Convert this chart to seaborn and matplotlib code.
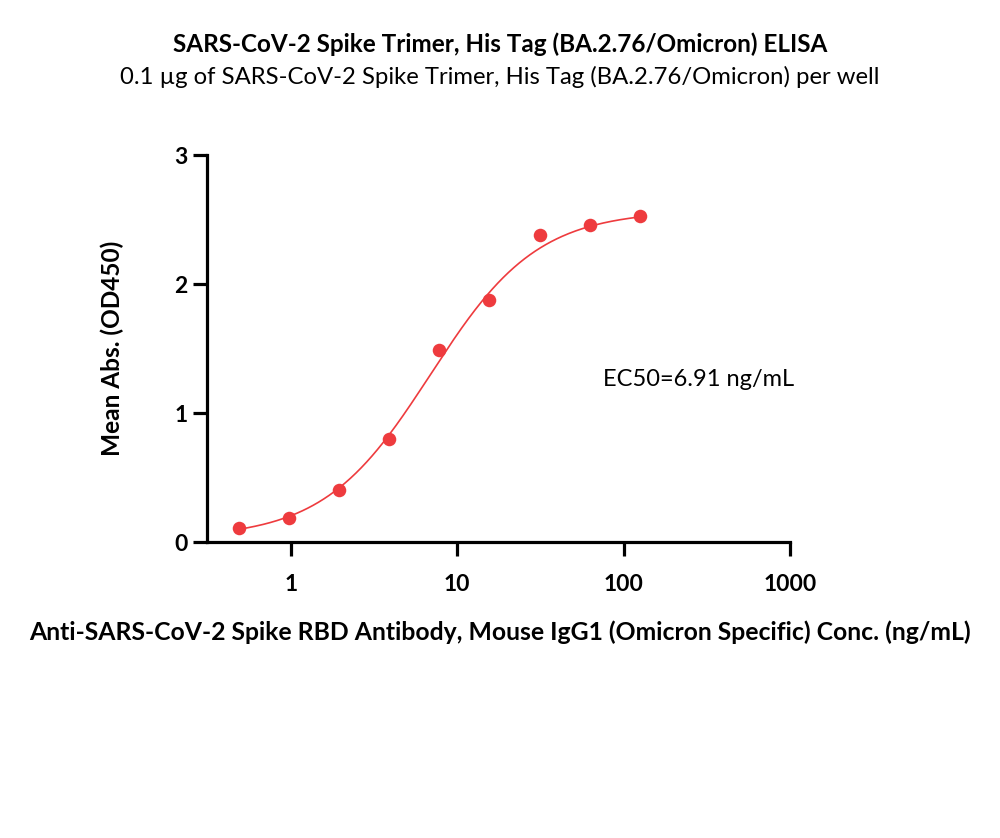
import matplotlib
matplotlib.use("Agg")
import matplotlib.pyplot as plt
import numpy as np
import pandas as pd
import seaborn as sns
from matplotlib.ticker import FixedLocator, NullLocator

# measured points (antibody conc. ng/mL vs mean OD450)
conc = [0.49, 0.98, 1.95, 3.9, 7.8, 15.6, 31.25, 62.5, 125.0]
od450 = [0.11, 0.19, 0.40, 0.80, 1.49, 1.88, 2.38, 2.46, 2.53]

# 4PL fit parameters (EC50 as reported)
fit_bottom = 0.03
fit_top = 2.57
fit_hill = 1.35
fit_ec50 = 6.91

x_ticks = [1, 10, 100, 1000]
x_tick_labels = ["1", "10", "100", "1000"]
y_ticks = [0, 1, 2, 3]

red = "#EE3B3E"

sns.set_theme(style="ticks")
plt.rcParams["font.family"] = ["Lato", "DejaVu Sans"]

points = pd.DataFrame({"conc": conc, "od": od450})
xs = np.logspace(np.log10(conc[0]), np.log10(conc[-1]), 300)
fit = pd.DataFrame({
    "conc": xs,
    "od": fit_bottom + (fit_top - fit_bottom) / (1 + (fit_ec50 / xs) ** fit_hill),
})

fig = plt.figure(figsize=(10, 8.38), dpi=100)
ax = fig.add_axes([0.207, 0.3532, 0.583, 0.4618])

sns.lineplot(data=fit, x="conc", y="od", ax=ax, color=red, linewidth=1.2)
sns.scatterplot(data=points, x="conc", y="od", ax=ax, color=red, s=95,
                edgecolor=red, linewidth=0, zorder=3)

ax.set_xscale("log")
ax.set_xlim(0.313, 1000)
ax.set_ylim(0, 3)
ax.xaxis.set_major_locator(FixedLocator(x_ticks))
ax.xaxis.set_minor_locator(NullLocator())
ax.set_xticklabels(x_tick_labels)
ax.set_yticks(y_ticks)

sns.despine(ax=ax)
for side in ("left", "bottom"):
    ax.spines[side].set_linewidth(2.3)
    ax.spines[side].set_color("black")
ax.tick_params(axis="both", which="major", length=10, width=2.3, color="black",
               labelsize=16.5, labelcolor="black")
ax.tick_params(axis="x", pad=13)
ax.tick_params(axis="y", pad=4)
for lab in ax.get_xticklabels() + ax.get_yticklabels():
    lab.set_fontweight("bold")

ax.set_xlabel("")
ax.set_ylabel("Mean Abs. (OD450)", fontsize=17.6, fontweight="bold",
              labelpad=36, color="black")

ax.text(0.679, 0.42, "EC50=6.91 ng/mL", transform=ax.transAxes,
        fontsize=17, color="black", va="center")

fig.text(0.5, 0.947, "SARS-CoV-2 Spike Trimer, His Tag (BA.2.76/Omicron) ELISA",
         ha="center", va="center", fontsize=17.5, fontweight="bold", color="black")
fig.text(0.5, 0.908, "0.1 µg of SARS-CoV-2 Spike Trimer, His Tag (BA.2.76/Omicron) per well",
         ha="center", va="center", fontsize=17.2, color="black")
fig.text(0.5, 0.246,
         "Anti-SARS-CoV-2 Spike RBD Antibody, Mouse IgG1 (Omicron Specific) Conc. (ng/mL)",
         ha="center", va="center", fontsize=17.8, fontweight="bold", color="black")

fig.savefig("out.png", dpi=100, facecolor="white")
